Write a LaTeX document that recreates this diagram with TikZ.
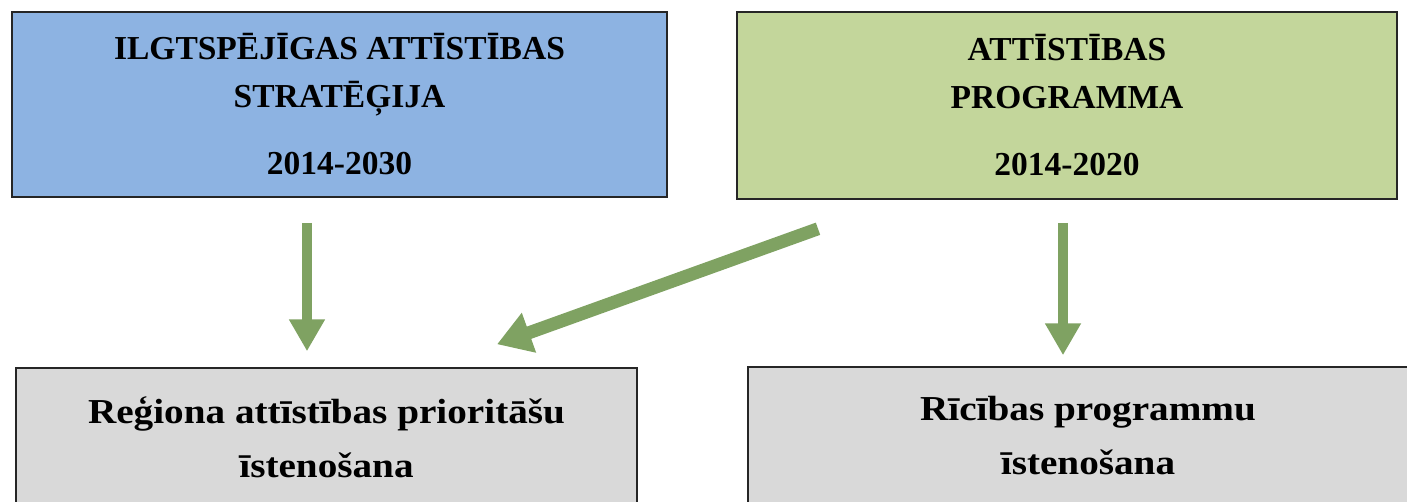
\documentclass[tikz,border=0pt]{standalone}
\usepackage{fontspec}
\setmainfont{Liberation Serif}
\newfontfamily\widefont{Liberation Serif}[FakeStretch=1.12]
\usetikzlibrary{arrows.meta}
\definecolor{stratblue}{HTML}{8DB3E2}
\definecolor{proggreen}{HTML}{C3D69B}
\definecolor{actgray}{HTML}{D9D9D9}
\definecolor{arrowgreen}{HTML}{7FA262}
\tikzset{%
  % Specifications for style of nodes:
        base/.style = {rectangle, draw=black!85, line width=1.5pt,
                       text centered, align=center, inner sep=0pt,
                       font=\bfseries\fontsize{33.5}{48}\selectfont},
    stratbox/.style = {base, fill=stratblue, minimum width=655pt, minimum height=185pt},
     progbox/.style = {base, fill=proggreen, minimum width=660pt, minimum height=187pt},
      actbox/.style = {base, fill=actgray, minimum height=138pt,
                       font=\widefont\bfseries\fontsize{35}{54}\selectfont},
        link/.style = {draw=arrowgreen, line width=10pt,
                       -{Triangle[width=34pt,length=32pt]}},
}
\begin{document}
\begin{tikzpicture}[x=1pt,y=-1pt]
  \useasboundingbox (0,0) rectangle (1407,501);

  % Specification of nodes (position, etc.)
  \node (strategija)  [stratbox] at (339.5,104.5)
        {ILGTSPĒJĪGAS ATTĪSTĪBAS\\ STRATĒĢIJA\\[19pt] 2014-2030};
  \node (programma)   [progbox] at (1067,105.5)
        {ATTĪSTĪBAS\\ PROGRAMMA\\[19pt] 2014-2020};
  \node (prioritates) [actbox, minimum width=621pt] at (326.5,437)
        {Reģiona attīstības prioritāšu\\ īstenošana};
  \node (ricibas)     [actbox, minimum width=680pt] at (1088,436)
        {Rīcības programmu\\ īstenošana};

  % Specification of arrows between nodes specified above
  \draw[link] ([xshift=-32.5pt,yshift=-25pt]strategija.south)
           -- ([xshift=-19.5pt,yshift=16pt]prioritates.north);
  \draw[link, line width=13pt, -{Triangle[width=40pt,length=34pt]}]
              ([xshift=-249pt,yshift=-29pt]programma.south)
           -- ([xshift=170.5pt,yshift=23pt]prioritates.north);
  \draw[link] ([xshift=-4pt,yshift=-23pt]programma.south)
           -- ([xshift=-25pt,yshift=11pt]ricibas.north);

\end{tikzpicture}
\end{document}
